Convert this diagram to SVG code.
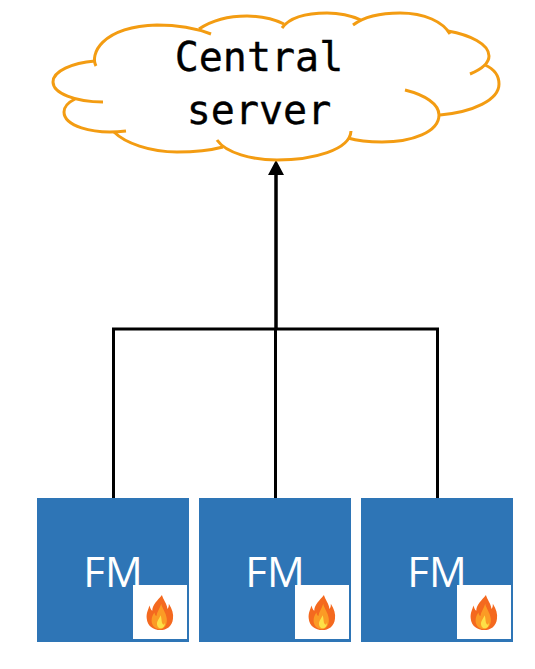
<svg xmlns="http://www.w3.org/2000/svg" width="535" height="669" viewBox="0 0 535 669">
<style>
.box{fill:#2e75b6}
.badge{fill:#fff}
.fm{font-family:"Open Sans","Noto Sans",sans-serif;font-size:42px;fill:#fff;text-anchor:middle}
.title{font-family:"DejaVu Sans Mono",monospace;font-size:40px;fill:#000;stroke:#000;stroke-width:.35;text-anchor:middle}
.lobe{fill:none;stroke:#f39c12;stroke-width:3;stroke-linecap:butt}
.wire{fill:none;stroke:#000;stroke-width:3}
</style>
<defs>
<marker id="head" markerUnits="userSpaceOnUse" markerWidth="16" markerHeight="16" refX="5" refY="8" orient="auto"><path d="M0 0L15 8L0 16Z" fill="#000"/></marker>
<g id="flame">
<path d="M26 0C28 6 33 9 34 16C36 14 36 12 36 10C41 16 43 22 42 27C41 36 32 40 24 40C13 40 5 35 4 27C3 21 6 17 8 12C9 15 10 17 12 18C12 11 20 6 26 0Z" fill="#f4691f"/>
<path d="M25 10C26 15 32 20 33 27C34 34 29 39 23 39C16 39 11 35 11 29C11 25 13 23 15 20C16 23 17 24 18 24C19 19 23 15 25 10Z" fill="#fb9b25"/>
<path d="M24 23C23 26 20 28 19 31C18 35 21 38 24 38C28 38 31 35 30 31C30 34 28 34 27 33C25 31 26 27 24 23Z" fill="#fde047"/>
</g>
</defs>
<g id="connectors">
<path class="wire" d="M113.500 498V329H437.500V498"/>
<path class="wire" d="M275.500 498V329"/>
<path class="wire" style="stroke-width:3.500" d="M276 329V170" marker-end="url(#head)"/>
</g>
<g id="central-server">
<path fill="#fff" d="M96 65C85 50 110 25 157 25C185 25 205 32 205 32C225 18 265 12 283 24C300 10 340 10 358 22C385 8 440 12 450 33C475 38 495 50 485 65C505 80 495 112 440 115C435 140 385 148 348 138C335 162 260 168 220 145C180 158 130 150 114 132C80 135 55 115 75 99C40 90 50 65 95 62Z"/>
<path class="lobe" d="M96 66C90 55 100 27 157 25C178 25 198 29 211 34"/>
<path class="lobe" d="M199 29C214 19 232 16 247 16C262 16 274 19 284 24"/>
<path class="lobe" d="M282 28C290 17 308 13 327 13C340 13 352 16 361 20"/>
<path class="lobe" d="M353 25C365 16 382 13 400 13C425 13 443 22 450 34"/>
<path class="lobe" d="M448 31C470 35 489 44 489 56C489 63 482 69 470 74"/>
<path class="lobe" d="M485 65C494 69 499 76 499 84C499 100 473 112 440 115"/>
<path class="lobe" d="M405 90C425 95 439 104 439 115C439 132 412 142 382 142C369 142 358 141 348 138"/>
<path class="lobe" d="M351 131C350 150 313 160 277 160C252 160 226 153 217 140"/>
<path class="lobe" d="M223 147C208 151 192 152 177 152C150 152 125 143 114 132"/>
<path class="lobe" d="M126 131C90 135 64 125 64 112C64 106 69 102 75 99"/>
<path class="lobe" d="M103 102C75 102 53 93 53 82C53 71 72 63 95 61"/>
<text class="title" x="259" y="71">Central</text>
<text class="title" x="259" y="124">server</text>
</g>
<g id="fm-1">
<rect class="box" x="37" y="498" width="152" height="144"/>
<text class="fm" x="113" y="587">FM</text>
<rect class="badge" x="133" y="585" width="54" height="54"/>
<use href="#flame" transform="translate(144 595) scale(.69 .875)"/>
</g>
<g id="fm-2">
<rect class="box" x="199" y="498" width="152" height="144"/>
<text class="fm" x="275" y="587">FM</text>
<rect class="badge" x="295" y="585" width="54" height="54"/>
<use href="#flame" transform="translate(306 595) scale(.69 .875)"/>
</g>
<g id="fm-3">
<rect class="box" x="361" y="498" width="152" height="144"/>
<text class="fm" x="437" y="587">FM</text>
<rect class="badge" x="457" y="585" width="54" height="54"/>
<use href="#flame" transform="translate(468 595) scale(.69 .875)"/>
</g>
</svg>
